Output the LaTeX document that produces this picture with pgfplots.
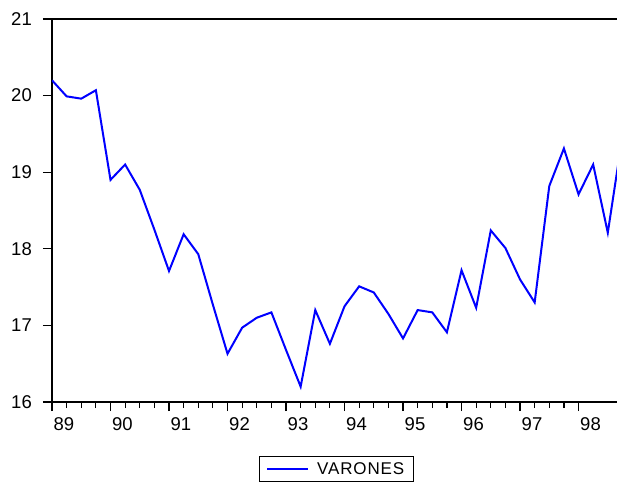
\documentclass[border=0pt]{standalone}
\usepackage{fontspec}
\setmainfont{Liberation Sans}
\usepackage{pgfplots}
\pgfplotsset{compat=1.18}
\pgfplotsset{every non boxed x axis/.style={}, every non boxed y axis/.style={}}
\begin{document}
\begin{tikzpicture}
\begin{axis}[
  at={(0pt,0pt)}, anchor=south west,
  scale only axis, width=565pt, height=383pt,
  xmin=0, xmax=38.63, ymin=16, ymax=21,
  axis x line*=box, axis y line*=left,
  axis line style={black, line width=1.3pt, -},
  xtick={0,4,...,36},
  xticklabels={89,90,91,92,93,94,95,96,97,98},
  minor x tick num=3,
  ytick={16,17,...,21},
  xtick pos=left, ytick pos=left,
  tick align=outside,
  major tick length=9pt, minor tick length=6pt,
  every tick/.style={black, line width=1.2pt},
  /pgf/number format/assume math mode=true,
  xticklabel style={anchor=north west, inner sep=0pt, yshift=-6pt, xshift=1.5pt, font=\fontsize{18.5}{20}\selectfont},
  yticklabel style={anchor=east, inner sep=0pt, xshift=-11pt, font=\fontsize{18.5}{20}\selectfont},
  legend style={at={(0.503,-0.141)}, anchor=north, draw=black, line width=0.9pt,
    font=\fontsize{17}{19}\selectfont\addfontfeatures{LetterSpace=5},
    inner xsep=7pt, inner ysep=4pt,
    /tikz/every odd column/.append style={column sep=6pt}},
  legend image code/.code={\draw[#1] (0pt,0pt) -- (41pt,0pt);},
]
\addplot[color={rgb,255:red,0;green,0;blue,255}, line width=2pt] coordinates {
(0,20.20) (1,19.99) (2,19.96) (3,20.07) (4,18.90) (5,19.10) (6,18.77) (7,18.25)
(8,17.71) (9,18.19) (10,17.93) (11,17.27) (12,16.63) (13,16.97) (14,17.10) (15,17.17)
(16,16.68) (17,16.20) (18,17.20) (19,16.76) (20,17.25) (21,17.51) (22,17.43) (23,17.15)
(24,16.83) (25,17.20) (26,17.17) (27,16.91) (28,17.72) (29,17.23) (30,18.24) (31,18.01)
(32,17.60) (33,17.30) (34,18.82) (35,19.31) (36,18.71) (37,19.10) (38,18.21) (39,19.47)
};
\addlegendentry{VARONES}
\end{axis}
\pgfresetboundingbox
\path[use as bounding box] (-52pt,-84pt) rectangle (565pt,402pt);
\end{tikzpicture}
\end{document}
